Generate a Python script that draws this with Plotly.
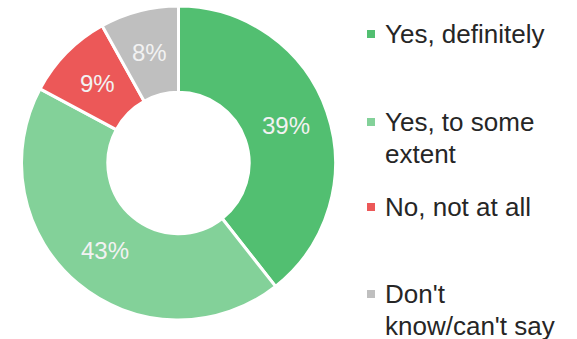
import math
import plotly.graph_objects as go

categories = ["Yes, definitely", "Yes, to some extent", "No, not at all", "Don't know/can't say"]
legend_text = ["Yes, definitely", "Yes, to some<br>extent", "No, not at all", "Don't<br>know/can't say"]
values = [39, 43, 9, 8]
colors = ["#52BF71", "#83D199", "#EC5858", "#BFBFBF"]

W, H = 577, 339
cx, cy, R = 178.5, 163, 157
HOLE = 0.45
FONT = "Liberation Sans, Arial, sans-serif"

fig = go.Figure(go.Pie(
    labels=categories,
    values=values,
    textinfo="none",
    marker=dict(colors=colors, line=dict(color="white", width=3)),
    hole=HOLE,
    sort=False,
    direction="clockwise",
    rotation=0,
    domain=dict(x=[(cx - R) / W, (cx + R) / W], y=[(H - cy - R) / H, (H - cy + R) / H]),
    showlegend=False,
))

annotations = []
shapes = []

# slice percentage labels, placed at the middle of each ring segment
total = sum(values)
r_mid = R * (1 + HOLE) / 2
cum = 0
for v in values:
    a = 2 * math.pi * (cum + v / 2) / total
    cum += v
    px = cx + r_mid * math.sin(a)
    py = cy - r_mid * math.cos(a)
    annotations.append(dict(xref="paper", yref="paper", x=px / W, y=1 - py / H,
                            xanchor="center", yanchor="middle", text=f"{v}%", showarrow=False,
                            font=dict(family=FONT, size=24, color="#F2F2F2")))

# legend drawn as squares + text lines
sq_centers = [34, 122, 207, 294]
line_h = 31.5
for i, yc in enumerate(sq_centers):
    shapes.append(dict(type="rect", xref="paper", yref="paper",
                       x0=367 / W, x1=375 / W, y0=1 - (yc + 4) / H, y1=1 - (yc - 4) / H,
                       fillcolor=colors[i], line=dict(width=0)))
    for k, line in enumerate(legend_text[i].split("<br>")):
        y = yc + k * line_h
        annotations.append(dict(xref="paper", yref="paper", x=383 / W, y=1 - y / H,
                                xanchor="left", yanchor="middle", align="left",
                                text=line, showarrow=False,
                                font=dict(family=FONT, size=26, color="#262626")))

fig.update_layout(
    width=W, height=H,
    margin=dict(l=0, r=0, t=0, b=0),
    paper_bgcolor="white", plot_bgcolor="white",
    shapes=shapes, annotations=annotations,
)

fig.write_html("out.html", config={"displayModeBar": False},
               post_script="document.body.style.margin='0';")
